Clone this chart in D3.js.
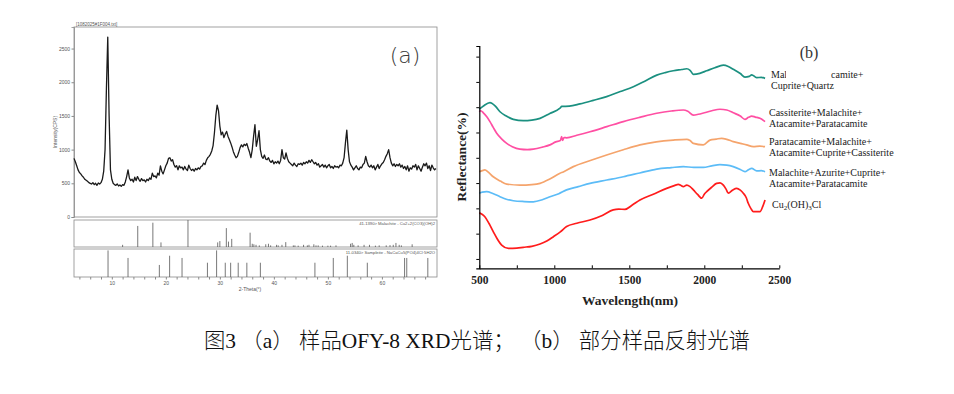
<!DOCTYPE html>
<html>
<head>
<meta charset="utf-8">
<script src="https://cdn.jsdelivr.net/npm/d3@7"></script>
<style>
  body { margin: 0; background: #fff; }
  svg { display: block; }
  .xa text, .ya text { font-family: "Liberation Sans", Arial, sans-serif; }
</style>
</head>
<body>
<div id="chart"></div>
<script>
// ---------- (a) XRD pattern ----------
var xrdStart = 3.0, xrdStep = 0.25;
var xrdIntensity = [
  870, 820, 760, 700, 660, 640, 610, 590, 560, 545, 530, 510, 500, 490, 510, 480, 500, 470, 505, 490,
  510, 560, 680, 1000, 1900, 2670, 1500, 700, 560, 500, 480, 470, 490, 460, 475, 455, 480, 470, 520, 600,
  700, 580, 540, 560, 520, 590, 540, 600, 560, 530, 570, 540, 550, 520, 560, 540, 580, 560, 650, 600,
  610, 580, 650, 620, 760, 680, 640, 700, 760, 800, 870, 880, 830, 850, 780, 740, 760, 700, 760, 730,
  740, 700, 750, 710, 690, 770, 720, 690, 710, 680, 720, 700, 730, 710, 750, 760, 800, 780, 840, 880,
  900, 930, 980, 1060, 1250, 1500, 1660, 1580, 1350, 1220, 1260, 1180, 1230, 1270, 1200, 1150, 1100, 1040, 970, 920,
  880, 900, 960, 1030, 1070, 1040, 1080, 1060, 1090, 1020, 960, 880, 1000, 1200, 1370, 1050, 1150, 1280, 1000, 900,
  870, 920, 860, 850, 880, 830, 810, 840, 790, 820, 800, 830, 790, 840, 1000, 880, 860, 950, 870, 820,
  800, 780, 760, 800, 770, 750, 790, 780, 800, 770, 810, 790, 820, 800, 840, 810, 850, 820, 790, 810,
  770, 790, 740, 760, 780, 740, 770, 730, 760, 780, 730, 750, 720, 760, 740, 750, 730, 770, 760, 800,
  880, 1100, 1290, 1000, 820, 770, 740, 700, 730, 760, 720, 700, 740, 730, 780, 800, 900, 820, 760, 740,
  770, 730, 760, 700, 740, 780, 720, 760, 790, 810, 850, 900, 940, 1000, 880, 800, 760, 790, 750, 780,
  760, 790, 740, 770, 720, 750, 700, 760, 680, 730, 710, 760, 740, 780, 700, 760, 720, 680, 740, 790,
  760, 800, 720, 760, 690, 770, 730, 700, 720
];
var yTicksA = [0, 500, 1000, 1500, 2000, 2500];
var xLabelsA = [10, 20, 30, 40, 50, 60];

var malachiteAngle = [12.0, 14.8, 17.6, 19.1, 24.1, 29.6, 30.0, 31.2, 31.6, 32.2, 35.6, 36.0, 36.3, 36.7, 37.3,
  38.5, 39.0, 39.4, 40.5, 40.8, 41.5, 42.2, 43.6, 43.9, 44.5, 45.5, 46.2, 46.5, 47.4, 47.8, 48.2, 49.0, 50.0,
  50.5, 51.5, 54.2, 54.5, 54.8, 55.6, 56.7, 57.7, 58.8, 59.5, 60.8, 61.5, 62.1, 62.6, 63.2, 63.6, 65.6];
var malachiteRel = [0.08, 0.78, 0.9, 0.17, 1.0, 0.17, 0.22, 0.7, 0.2, 0.3, 0.53, 0.12, 0.1, 0.08, 0.06,
  0.1, 0.12, 0.06, 0.08, 0.06, 0.08, 0.18, 0.06, 0.06, 0.05, 0.08, 0.06, 0.08, 0.1, 0.06, 0.06, 0.05, 0.05,
  0.05, 0.06, 0.12, 0.15, 0.08, 0.06, 0.08, 0.08, 0.05, 0.06, 0.06, 0.07, 0.08, 0.15, 0.08, 0.06, 0.1];
var sampleiteAngle = [9.3, 13.0, 18.8, 20.7, 23.0, 27.7, 29.4, 31.0, 32.0, 33.4, 35.0, 37.5, 47.6, 51.0, 53.6, 57.3, 64.2, 64.6, 68.5];
var sampleiteRel = [0.95, 0.68, 0.43, 0.76, 0.68, 0.51, 0.95, 0.51, 0.51, 0.51, 0.51, 0.51, 0.51, 0.68, 0.76, 0.51, 0.68, 0.68, 0.68];

// ---------- (b) reflectance spectra ----------
var specNames = [
  ["Malachite+Atacamite+", "Cuprite+Quartz"],
  ["Cassiterite+Malachite+", "Atacamite+Paratacamite"],
  ["Paratacamite+Malachite+", "Atacamite+Cuprite+Cassiterite"],
  ["Malachite+Azurite+Cuprite+", "Atacamite+Paratacamite"],
  ["Cu2(OH)3Cl"]
];
var specColors = ["#1b9080", "#ff4fa3", "#f5a46c", "#5cbcf7", "#ff1c1c"];
var tealWl = [500, 530, 571, 610, 638, 680, 727, 793, 850, 905, 970, 1038, 1050, 1100, 1171, 1260, 1349, 1440, 1527, 1600, 1683, 1740, 1793, 1850, 1883, 1905, 1927, 1970, 2016, 2070, 2127, 2160, 2193, 2240, 2271, 2300, 2316, 2349, 2380, 2405];
var tealVal = [59.2, 60.6, 61.8, 60.2, 58.2, 56.5, 55.2, 54.7, 54.9, 55.6, 57.5, 59.6, 60.3, 60.4, 61.3, 62.7, 64.2, 66.2, 68.1, 70.2, 72.7, 73.7, 74.4, 74.9, 75.2, 74.6, 73.0, 73.4, 74.4, 75.6, 76.6, 76.1, 75.0, 73.3, 71.9, 72.2, 72.8, 71.7, 71.8, 71.4];
var pinkWl = [500, 510, 527, 550, 571, 593, 616, 650, 683, 720, 771, 820, 860, 920, 971, 1010, 1040, 1049, 1055, 1065, 1082, 1150, 1238, 1350, 1460, 1570, 1683, 1780, 1860, 1890, 1927, 1960, 2000, 2050, 2104, 2150, 2193, 2240, 2271, 2295, 2316, 2340, 2371, 2405];
var pinkVal = [58.2, 58.6, 57.8, 56.2, 54.3, 52.0, 49.7, 47.4, 45.7, 44.4, 43.4, 43.2, 43.4, 44.2, 45.1, 46.3, 46.8, 48.4, 46.9, 48.0, 47.9, 48.9, 50.3, 52.3, 54.3, 56.0, 57.6, 58.5, 58.9, 58.4, 56.9, 57.2, 57.8, 58.6, 59.2, 58.9, 57.8, 56.5, 55.2, 56.0, 56.5, 56.1, 55.6, 54.3];
var orangeWl = [500, 520, 537, 560, 593, 640, 683, 771, 850, 905, 970, 1038, 1060, 1127, 1240, 1349, 1460, 1571, 1680, 1793, 1883, 1905, 1927, 1993, 2038, 2080, 2116, 2150, 2193, 2240, 2282, 2327, 2370, 2405];
var orangeVal = [34.5, 34.9, 35.2, 34.3, 32.5, 30.8, 29.6, 29.2, 29.4, 29.9, 31.6, 33.9, 34.4, 36.5, 38.9, 41.1, 43.2, 45.1, 46.3, 47.0, 47.3, 46.8, 45.7, 45.1, 47.0, 47.4, 47.7, 47.3, 46.4, 45.7, 45.1, 44.4, 44.6, 44.4];
var blueWl = [500, 520, 549, 590, 638, 680, 727, 800, 860, 920, 971, 1030, 1082, 1160, 1238, 1350, 1460, 1570, 1683, 1780, 1860, 1930, 1993, 2050, 2104, 2150, 2193, 2240, 2271, 2295, 2316, 2349, 2380, 2405];
var blueVal = [26.0, 26.4, 26.6, 25.9, 24.6, 23.6, 23.0, 22.7, 22.6, 23.4, 24.6, 25.8, 27.3, 28.6, 29.9, 31.2, 32.5, 34.0, 35.5, 36.1, 36.5, 36.2, 36.2, 36.8, 37.3, 37.1, 36.5, 35.4, 34.5, 35.3, 35.8, 34.8, 34.9, 34.5];
var redWl = [500, 515, 537, 565, 593, 620, 649, 694, 750, 793, 850, 905, 950, 994, 1040, 1082, 1150, 1238, 1320, 1393, 1430, 1471, 1520, 1571, 1660, 1749, 1800, 1827, 1845, 1860, 1883, 1905, 1927, 1955, 1983, 2000, 2016, 2050, 2082, 2105, 2127, 2145, 2160, 2190, 2216, 2240, 2260, 2280, 2293, 2310, 2327, 2371, 2390, 2405];
var redVal = [18.3, 17.8, 16.7, 14.0, 10.8, 7.9, 5.5, 4.2, 4.3, 4.6, 5.0, 5.9, 7.1, 8.8, 10.7, 12.8, 14.1, 15.4, 17.2, 19.4, 19.7, 19.6, 21.3, 23.3, 25.6, 27.9, 29.0, 29.5, 29.0, 28.6, 29.2, 28.6, 27.3, 25.5, 24.0, 25.6, 26.6, 28.4, 29.9, 30.1, 29.2, 27.6, 26.0, 27.3, 27.9, 27.2, 26.0, 24.2, 22.0, 20.0, 18.7, 18.7, 20.8, 23.3];
var xTicksB = [500, 1000, 1500, 2000, 2500];

var W = 954, H = 394;
var svg = d3.select("#chart").append("svg")
  .attr("width", W)
  .attr("height", H);

// ================= panel (a) =================
var ax0 = 74, ax1 = 437;
var mainTop = 27, mainBot = 217;
var p1Top = 220, p1Bot = 247, p2Top = 249, p2Bot = 277;
var frameCol = "#8a8a8a", txtCol = "#555";

var xA = d3.scaleLinear().domain([3, 70.2]).range([ax0, ax1]);
var yA = d3.scaleLinear().domain([0, 2820]).range([mainBot, mainTop]);

var ga = svg.append("g").attr("class", "panel-a");

// boxes
ga.append("rect").attr("x", ax0).attr("y", mainTop).attr("width", ax1 - ax0).attr("height", mainBot - mainTop)
  .attr("fill", "none").attr("stroke", frameCol).attr("stroke-width", 0.8);
ga.append("rect").attr("x", ax0).attr("y", p1Top).attr("width", ax1 - ax0).attr("height", p1Bot - p1Top)
  .attr("fill", "none").attr("stroke", frameCol).attr("stroke-width", 0.8);
ga.append("rect").attr("x", ax0).attr("y", p2Top).attr("width", ax1 - ax0).attr("height", p2Bot - p2Top)
  .attr("fill", "none").attr("stroke", frameCol).attr("stroke-width", 0.8);

// y axis
var yAxisA = d3.axisLeft(yA).tickValues(yTicksA).tickSize(2.5).tickPadding(1.5).tickFormat(d3.format("d"));
ga.append("g").attr("class", "ya")
  .attr("transform", "translate(" + ax0 + ",0)")
  .call(yAxisA)
  .call(function(g) {
    g.select(".domain").attr("stroke", frameCol).attr("stroke-width", 0.8);
    g.selectAll("line").attr("stroke", frameCol);
    g.selectAll("text").attr("fill", txtCol).style("font-size", "5px");
  });

// x axis under the second reference box
var xTickVals = d3.range(4, 70, 2);
var xAxisA = d3.axisBottom(xA).tickValues(xTickVals).tickSize(2.5).tickPadding(2)
  .tickFormat(function(d) { return xLabelsA.indexOf(d) >= 0 ? d : ""; });
ga.append("g").attr("class", "xa")
  .attr("transform", "translate(0," + p2Bot + ")")
  .call(xAxisA)
  .call(function(g) {
    g.select(".domain").remove();
    g.selectAll("line").attr("stroke", frameCol);
    g.selectAll("text").attr("fill", txtCol).style("font-size", "5px");
  });

ga.append("text")
  .attr("x", 250).attr("y", 291)
  .attr("text-anchor", "middle")
  .style("font-family", "Liberation Sans, Arial, sans-serif")
  .style("font-size", "5px")
  .attr("fill", txtCol)
  .text("2-Theta(°)");

ga.append("text")
  .attr("transform", "translate(57,132) rotate(-90)")
  .attr("text-anchor", "middle")
  .style("font-family", "Liberation Sans, Arial, sans-serif")
  .style("font-size", "5px")
  .attr("fill", txtCol)
  .text("Intensity(CPS)");

ga.append("text")
  .attr("x", ax0 + 2).attr("y", 25.5)
  .style("font-family", "Liberation Sans, Arial, sans-serif")
  .style("font-size", "4.5px")
  .attr("fill", txtCol)
  .text("[1082025#1F004.txt]");

ga.append("text")
  .attr("x", 405).attr("y", 63)
  .attr("text-anchor", "middle")
  .style("font-family", "DejaVu Sans, sans-serif")
  .style("font-size", "22px")
  .style("font-weight", "300")
  .attr("fill", "#3a3a3a")
  .text("(a)");

// pattern
var xrdLine = d3.line()
  .x(function(d, i) { return xA(xrdStart + i * xrdStep); })
  .y(function(d) { return yA(d); });
ga.append("path")
  .datum(xrdIntensity)
  .attr("d", xrdLine)
  .attr("fill", "none")
  .attr("stroke", "#1a1a1a")
  .attr("stroke-width", 1.3)
  .attr("stroke-linejoin", "round");

// reference sticks
var y1 = d3.scaleLinear().domain([0, 1]).range([p1Bot, p1Top]);
var y2 = d3.scaleLinear().domain([0, 1]).range([p2Bot, p2Top]);

ga.append("g").selectAll("line")
  .data(malachiteAngle)
  .enter().append("line")
  .attr("x1", function(d) { return xA(d); })
  .attr("x2", function(d) { return xA(d); })
  .attr("y1", y1(0))
  .attr("y2", function(d, i) { return y1(malachiteRel[i]); })
  .attr("stroke", "#555")
  .attr("stroke-width", 0.8);

ga.append("g").selectAll("line")
  .data(sampleiteAngle)
  .enter().append("line")
  .attr("x1", function(d) { return xA(d); })
  .attr("x2", function(d) { return xA(d); })
  .attr("y1", y2(0))
  .attr("y2", function(d, i) { return y2(sampleiteRel[i]); })
  .attr("stroke", "#555")
  .attr("stroke-width", 0.8);

ga.append("text")
  .attr("x", ax1 - 2).attr("y", p1Top + 5)
  .attr("text-anchor", "end")
  .style("font-family", "Liberation Sans, Arial, sans-serif")
  .style("font-size", "4.2px")
  .attr("fill", txtCol)
  .text("41-1390> Malachite - Cu2+2(CO3)(OH)2");

ga.append("text")
  .attr("x", ax1 - 2).attr("y", p2Top + 5)
  .attr("text-anchor", "end")
  .style("font-family", "Liberation Sans, Arial, sans-serif")
  .style("font-size", "4.2px")
  .attr("fill", txtCol)
  .text("11-0340> Sampleite - NaCaCu5(PO4)4Cl·5H2O");

// ================= panel (b) =================
var bx0 = 479.3, bx1 = 779.3;
var by0 = 268.3, by1 = 46;
var xB = d3.scaleLinear().domain([500, 2500]).range([bx0, bx1]);
var yB = d3.scaleLinear().domain([-3.7, 84.2]).range([by0, by1]);

var gb = svg.append("g").attr("class", "panel-b");

var specs = [
  {wl: tealWl, val: tealVal},
  {wl: pinkWl, val: pinkVal},
  {wl: orangeWl, val: orangeVal},
  {wl: blueWl, val: blueVal},
  {wl: redWl, val: redVal}
];

var specLine = d3.line()
  .curve(d3.curveMonotoneX)
  .x(function(d) { return xB(d[0]); })
  .y(function(d) { return yB(d[1]); });

gb.selectAll(".spec")
  .data(specs)
  .enter().append("path")
  .attr("class", "spec")
  .attr("d", function(s) { return specLine(s.wl.map(function(w, i) { return [w, s.val[i]]; })); })
  .attr("fill", "none")
  .attr("stroke", function(s, i) { return specColors[i]; })
  .attr("stroke-width", 1.7);

// axes
var yAxisB = d3.axisLeft(yB).tickValues(d3.range(0, 81, 10)).tickSize(3).tickFormat("");
gb.append("g")
  .attr("transform", "translate(" + bx0 + ",0)")
  .call(yAxisB)
  .call(function(g) {
    g.select(".domain").attr("stroke", "#000").attr("stroke-width", 1.2);
    g.selectAll("line").attr("stroke", "#000").attr("stroke-width", 1);
  });

var xAxisB = d3.axisBottom(xB).tickValues(d3.range(500, 2501, 250)).tickSizeInner(-3).tickSizeOuter(0).tickPadding(8)
  .tickFormat(function(d) { return xTicksB.indexOf(d) >= 0 ? d : ""; });
gb.append("g")
  .attr("transform", "translate(0," + by0 + ")")
  .call(xAxisB)
  .call(function(g) {
    g.select(".domain").attr("stroke", "#000").attr("stroke-width", 1.2);
    g.selectAll("line").attr("stroke", "#000").attr("stroke-width", 1);
    g.selectAll("text")
      .style("font-family", "Liberation Serif, Times New Roman, serif")
      .style("font-size", "11.5px")
      .style("font-weight", "bold")
      .attr("fill", "#222");
  });

gb.append("text")
  .attr("x", 630).attr("y", 305)
  .attr("text-anchor", "middle")
  .style("font-family", "Liberation Serif, Times New Roman, serif")
  .style("font-size", "13.5px")
  .style("font-weight", "bold")
  .attr("fill", "#222")
  .text("Wavelength(nm)");

gb.append("text")
  .attr("transform", "translate(466,157) rotate(-90)")
  .attr("text-anchor", "middle")
  .style("font-family", "Liberation Serif, Times New Roman, serif")
  .style("font-size", "13.5px")
  .style("font-weight", "bold")
  .attr("fill", "#222")
  .text("Reflectance(%)");

gb.append("text")
  .attr("x", 809).attr("y", 58)
  .attr("text-anchor", "middle")
  .style("font-family", "Liberation Serif, Times New Roman, serif")
  .style("font-size", "16px")
  .attr("fill", "#333")
  .text("(b)");

// legend labels next to curve ends
var labelPos = [[771, 78], [769, 116], [769, 145], [769, 176], [772, 208]];
var labels = gb.selectAll(".lab")
  .data(specNames)
  .enter().append("text")
  .attr("class", "lab")
  .attr("x", function(d, i) { return labelPos[i][0]; })
  .attr("y", function(d, i) { return labelPos[i][1]; })
  .style("font-family", "Liberation Serif, Times New Roman, serif")
  .style("font-size", "10px")
  .attr("fill", "#222");

labels.each(function(d, i) {
  var t = d3.select(this);
  if (i === 4) {
    t.append("tspan").text("Cu");
    t.append("tspan").attr("dy", 2).style("font-size", "7px").text("2");
    t.append("tspan").attr("dy", -2).text("(OH)");
    t.append("tspan").attr("dy", 2).style("font-size", "7px").text("3");
    t.append("tspan").attr("dy", -2).text("Cl");
    return;
  }
  d.forEach(function(line, j) {
    t.append("tspan")
      .attr("x", labelPos[i][0])
      .attr("dy", j === 0 ? 0 : 10.7)
      .text(line);
  });
});

// part of the first label is hidden in the original figure
gb.append("rect")
  .attr("x", 786).attr("y", 68).attr("width", 45).attr("height", 12)
  .attr("fill", "#fff");

// ================= caption =================
svg.append("text")
  .attr("x", 750).attr("y", 348)
  .attr("text-anchor", "end")
  .style("font-family", "Liberation Serif, Noto Sans CJK SC, serif")
  .style("font-size", "21.4px")
  .style("font-weight", "300")
  .attr("fill", "#111")
  .text("图3 （a） 样品OFY-8 XRD光谱；  （b） 部分样品反射光谱");
</script>
</body>
</html>
